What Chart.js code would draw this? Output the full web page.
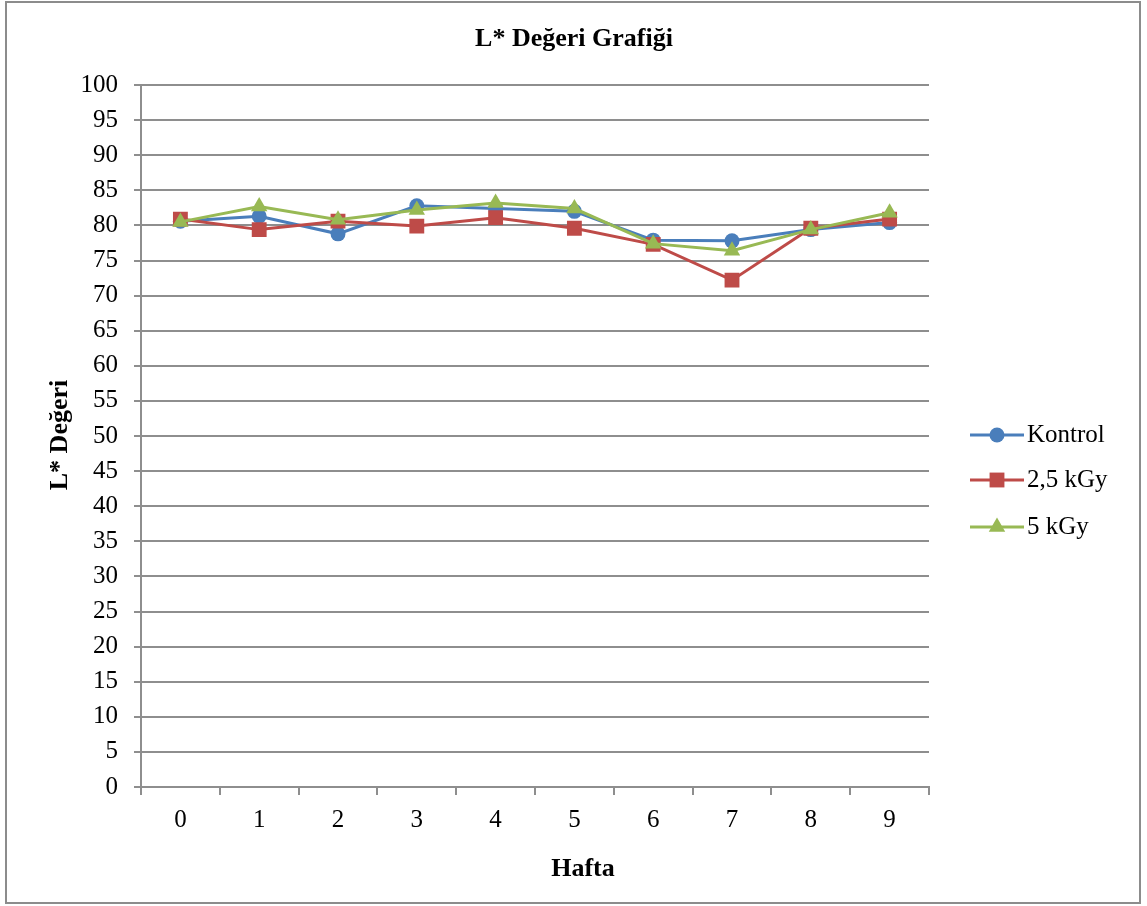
<!DOCTYPE html>
<html lang="tr">
<head>
<meta charset="utf-8">
<title>L* Değeri Grafiği</title>
<script src="https://cdn.jsdelivr.net/npm/chart.js@4.4.1/dist/chart.umd.min.js"></script>
<style>
  html, body { margin: 0; padding: 0; background: #ffffff; }
  #wrap { width: 1147px; height: 906px; }
</style>
</head>
<body>
<div id="wrap"><canvas id="chart" width="1147" height="906"></canvas></div>
<script>
// Haftalık L* ölçümleri
const weeks = ['0', '1', '2', '3', '4', '5', '6', '7', '8', '9'];
const kontrol = [80.6, 81.3, 78.8, 82.8, 82.4, 82.0, 77.9, 77.8, 79.4, 80.4];
const kgy25   = [80.9, 79.4, 80.6, 79.9, 81.1, 79.6, 77.3, 72.2, 79.6, 80.9];
const kgy5    = [80.5, 82.7, 80.8, 82.2, 83.2, 82.4, 77.4, 76.4, 79.4, 81.8];
const seriesNames = ['Kontrol', '2,5 kGy', '5 kGy'];
const yMin = 0, yMax = 100, yStep = 5;

const FONT = "'Liberation Serif', 'Times New Roman', serif";
const GRID = '#8e8e8e';

const styles = [
  { color: '#4A7EBB', point: 'circle',   radius: 7.5 },
  { color: '#BE4B48', point: 'rect',     radius: 10.5 },
  { color: '#98B954', point: 'triangle', radius: 9.5 }
];

// Çerçeve, başlıklar ve açıklama
const decor = {
  id: 'decor',
  beforeDraw(chart) {
    const ctx = chart.ctx;
    ctx.save();
    ctx.fillStyle = '#ffffff';
    ctx.fillRect(0, 0, chart.width, chart.height);
    ctx.strokeStyle = '#8c8c8c';
    ctx.lineWidth = 2;
    ctx.strokeRect(6, 2, 1134, 901);
    ctx.restore();
  },
  afterDraw(chart) {
    const ctx = chart.ctx;
    ctx.save();
    ctx.fillStyle = '#000000';
    ctx.textAlign = 'center';
    ctx.textBaseline = 'middle';
    ctx.font = 'bold 26px ' + FONT;
    ctx.fillText('L* Değeri Grafiği', 574, 39);
    ctx.fillText('Hafta', 583, 869);
    ctx.save();
    ctx.translate(60, 435);
    ctx.rotate(-Math.PI / 2);
    ctx.fillText('L* Değeri', 0, 0);
    ctx.restore();

    // açıklama
    const rows = [435, 480, 527];
    chart.data.datasets.forEach((ds, i) => {
      const st = styles[i];
      const y = rows[i];
      ctx.strokeStyle = st.color;
      ctx.lineWidth = 3;
      ctx.beginPath();
      ctx.moveTo(970, y);
      ctx.lineTo(1024, y);
      ctx.stroke();
      ctx.fillStyle = st.color;
      Chart.helpers.drawPoint(ctx, { pointStyle: st.point, radius: st.radius, rotation: 0, borderWidth: 0 }, 997, y);
      ctx.fillStyle = '#000000';
      ctx.textAlign = 'left';
      ctx.textBaseline = 'middle';
      ctx.font = '25px ' + FONT;
      ctx.fillText(seriesNames[i], 1027, y);
    });
    ctx.restore();
  }
};

const makeSet = (label, data, i, order) => ({
  label,
  data,
  borderColor: styles[i].color,
  backgroundColor: styles[i].color,
  pointBackgroundColor: styles[i].color,
  pointBorderColor: styles[i].color,
  pointBorderWidth: 0,
  pointStyle: styles[i].point,
  pointRadius: styles[i].radius,
  pointHoverRadius: styles[i].radius,
  borderWidth: 3,
  tension: 0,
  fill: false,
  order
});

new Chart(document.getElementById('chart'), {
  type: 'line',
  data: {
    labels: weeks,
    datasets: [
      makeSet(seriesNames[0], kontrol, 0, 2),
      makeSet(seriesNames[1], kgy25, 1, 1),
      makeSet(seriesNames[2], kgy5, 2, 0)
    ]
  },
  plugins: [decor],
  options: {
    responsive: false,
    animation: false,
    devicePixelRatio: 1,
    layout: { padding: { left: 0, top: 85, right: 218, bottom: 0 } },
    plugins: {
      legend: { display: false },
      title: { display: false },
      tooltip: { enabled: false }
    },
    scales: {
      y: {
        min: yMin,
        max: yMax,
        afterFit(scale) { scale.width = 141; },
        ticks: {
          stepSize: yStep,
          color: '#000000',
          font: { family: FONT, size: 25 },
          padding: 16
        },
        grid: { color: GRID, lineWidth: 2, tickLength: 7 },
        border: { color: GRID, width: 2 }
      },
      x: {
        offset: true,
        afterFit(scale) { scale.height = 119; },
        ticks: {
          color: '#000000',
          font: { family: FONT, size: 25 },
          padding: 10,
          maxRotation: 0
        },
        grid: { offset: true, drawOnChartArea: false, color: GRID, lineWidth: 2, tickLength: 8 },
        border: { color: GRID, width: 2 }
      }
    }
  }
});
</script>
</body>
</html>
